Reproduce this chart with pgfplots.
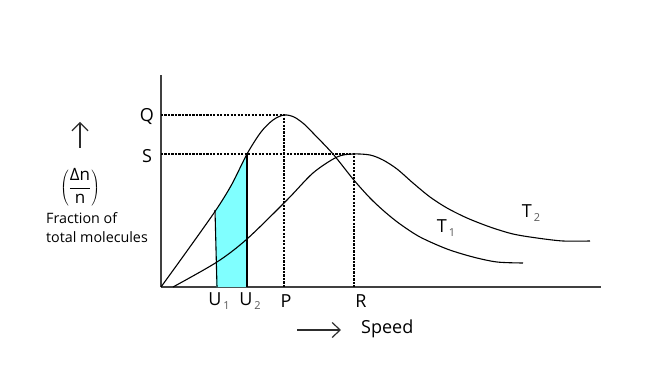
\documentclass[border=0pt]{standalone}
\usepackage{fontspec}
\setmainfont{Open Sans}
\usepackage{pgfplots}
\pgfplotsset{compat=1.18}
\usepgfplotslibrary{fillbetween}
\usetikzlibrary{arrows.meta}
\definecolor{cyanfill}{RGB}{128,255,255}
\definecolor{txt}{RGB}{45,45,45}
\newcommand{\sub}[1]{\kern2bp\raisebox{-0.35ex}{\fontsize{11bp}{12bp}\selectfont\color{black!65}#1}}
\pgfplotstableread{
x y
0 0
26 36
55 77
71 103
86 133
100 155
112 167
123 172
133 170
143 163
152 154
172 133
192 108
209 89
224 75
239 63
259 50
286 38
312 30
336 25
362 24
}\tone
\pgfplotstableread{
x y
12 0
56 25
86 48
126 87
152 114
176 130
192 133
209 132
222 127
236 118
252 104
269 90
286 79
306 69
329 60
352 53
376 49
402 46
429 46
}\ttwo
\begin{document}
\begin{tikzpicture}
\begin{axis}[
  at={(0,0)}, anchor=origin,
  scale only axis, width=440bp, height=212bp,
  xmin=0, xmax=440, ymin=0, ymax=212,
  axis x line*=bottom, axis y line*=left,
  axis line style={line width=1.3pt, black!75},
  xtick=\empty, ytick=\empty,
  clip=false,
  every node/.style={text=txt},
]
% fill under T1 between U1 and U2
\addplot[draw=none, name path=base, forget plot] coordinates {(0,0) (440,0)};
\addplot[draw=none, name path=t1h, smooth, forget plot] table {\tone};
\addplot[cyanfill, forget plot] fill between[of=t1h and base, soft clip={domain=55:86}];
% dotted guides
\addplot[black, line width=1.1pt, dash pattern=on 2.2pt off 1.3pt] coordinates {(0,172) (123,172) (123,0)};
\addplot[black, line width=1.1pt, dash pattern=on 2.2pt off 1.3pt] coordinates {(0,133) (193,133) (193,0)};
% T1
\addplot[black, line width=1.1pt, smooth] table {\tone};
% T2
\addplot[black, line width=1.1pt, smooth] table {\ttwo};
% U1, U2 verticals
\addplot[black, line width=1.1pt] coordinates {(56,0) (54,77)};
\addplot[black, line width=1.1pt] coordinates {(86,0) (86,133)};
% labels
\node[font=\fontsize{18bp}{20bp}\selectfont] at (axis cs:-14,170) {Q};
\node[font=\fontsize{18bp}{20bp}\selectfont] at (axis cs:-14,131) {S};
\node[font=\fontsize{18bp}{20bp}\selectfont] at (axis cs:58,-14) {U\sub{1}};
\node[font=\fontsize{18bp}{20bp}\selectfont] at (axis cs:89,-14) {U\sub{2}};
\node[font=\fontsize{18bp}{20bp}\selectfont] at (axis cs:125,-14) {P};
\node[font=\fontsize{18bp}{20bp}\selectfont] at (axis cs:200,-14) {R};
\node[font=\fontsize{18bp}{20bp}\selectfont] at (axis cs:285,59) {T\sub{1}};
\node[font=\fontsize{18bp}{20bp}\selectfont] at (axis cs:370,74) {T\sub{2}};
% y label
\draw[txt, line width=1.2pt, -{Straight Barb[length=8bp,width=16bp]}] (axis cs:-81,139) -- (axis cs:-81,165);
\node[font=\fontsize{17bp}{20bp}\selectfont] at (axis cs:-81,100) {$\displaystyle\left(\frac{\mbox{Δn}}{\mbox{n}}\right)$};
\node[font=\fontsize{14.3bp}{16bp}\selectfont, anchor=base west, inner sep=0pt] at (axis cs:-115,63) {Fraction of};
\node[font=\fontsize{14.3bp}{16bp}\selectfont, anchor=base west, inner sep=0pt] at (axis cs:-115,44) {total molecules};
% x label
\draw[txt, line width=1.2pt, -{Straight Barb[length=8bp,width=15bp]}] (axis cs:136,-43) -- (axis cs:180,-43);
\node[font=\fontsize{18bp}{20bp}\selectfont, anchor=base west, inner sep=0pt] at (axis cs:200,-46) {Speed};
\end{axis}
\pgfresetboundingbox
\path[use as bounding box] (-161bp,-87bp) rectangle (505bp,287bp);
\end{tikzpicture}
\end{document}
